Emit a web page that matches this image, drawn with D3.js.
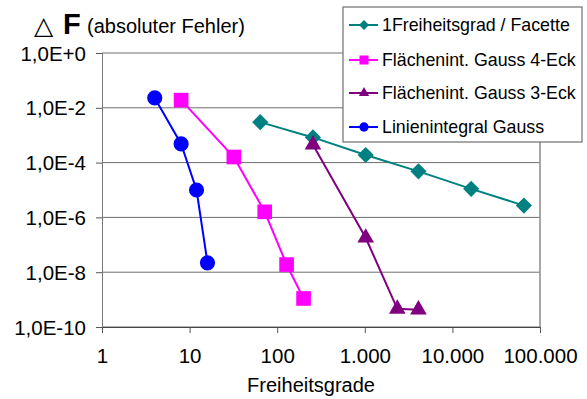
<!DOCTYPE html>
<html>
<head>
<meta charset="utf-8">
<script src="https://cdn.jsdelivr.net/npm/d3@7"></script>
<style>
  body { margin: 0; background: #fff; }
  text { font-family: "Liberation Sans", Arial, sans-serif; fill: #000; }
</style>
</head>
<body>
<svg id="chart" width="587" height="399"></svg>
<script>
// series data
const seriesNames = ["1Freiheitsgrad / Facette", "Flächenint. Gauss 4-Eck", "Flächenint. Gauss 3-Eck", "Linienintegral Gauss"];
const facetteX = [64, 256, 1024, 4096, 16384, 65536];
const facetteY = [3.0e-3, 8.3e-4, 1.9e-4, 4.8e-5, 1.1e-5, 2.7e-6];
const viereckX = [8, 32, 72, 128, 200];
const viereckY = [1.9e-2, 1.6e-4, 1.6e-6, 1.9e-8, 1.1e-9];
const dreieckX = [256, 1024, 2350, 4096];
const dreieckY = [4.5e-4, 1.8e-7, 4.6e-10, 4.3e-10];
const linieX = [4, 8, 12, 16];
const linieY = [2.3e-2, 4.8e-4, 1.0e-5, 2.2e-8];
const xTicks = [1, 10, 100, 1000, 10000, 100000];
const yTicks = [1, 1e-2, 1e-4, 1e-6, 1e-8, 1e-10];

const svg = d3.select("#chart");

// plot area
const plotLeft = 102, plotRight = 540, plotTop = 53, plotBottom = 327;

const x = d3.scaleLog().domain([1, 100000]).range([plotLeft, plotRight]);
const y = d3.scaleLog().domain([1e-10, 1]).range([plotBottom, plotTop]);

const de = d3.formatLocale({decimal: ",", thousands: ".", grouping: [3], currency: ["", ""]});
const fmtX = de.format(",");
const fmtY = v => {
    const e = Math.round(Math.log10(v));
    return "1,0E" + (e >= 0 ? "+" + e : e);
};

// gridlines
svg.append("g")
    .selectAll("line")
    .data(yTicks)
    .enter().append("line")
    .attr("x1", plotLeft).attr("x2", plotRight)
    .attr("y1", d => y(d)).attr("y2", d => y(d))
    .style("stroke", "#6e6e6e")
    .style("stroke-width", 1);

// right border
svg.append("line")
    .attr("x1", plotRight).attr("x2", plotRight)
    .attr("y1", plotTop).attr("y2", plotBottom)
    .style("stroke", "#8a8a8a")
    .style("stroke-width", 1.5);

// y axis
const yAxis = svg.append("g")
    .attr("transform", "translate(" + plotLeft + ",0)")
    .call(d3.axisLeft(y).tickValues(yTicks).tickFormat(fmtY).tickSize(6).tickPadding(10));
yAxis.select(".domain").style("stroke", "#777");
yAxis.selectAll(".tick line").style("stroke", "#555");
yAxis.selectAll("text").style("font-size", "20.5px").attr("dy", "0.35em");

// x axis
const xAxis = svg.append("g")
    .attr("transform", "translate(0," + plotBottom + ")")
    .call(d3.axisBottom(x).tickValues(xTicks).tickFormat(fmtX).tickSize(6).tickPadding(15));
xAxis.select(".domain").style("stroke", "#444");
xAxis.selectAll(".tick line").style("stroke", "#555");
xAxis.selectAll("text").style("font-size", "20.5px");

// axis title
svg.append("text")
    .attr("x", 311).attr("y", 392)
    .attr("text-anchor", "middle")
    .style("font-size", "20px")
    .text("Freiheitsgrade");

// y title
svg.append("text")
    .attr("x", 34).attr("y", 34)
    .style("font-family", "DejaVu Sans")
    .style("font-size", "25px")
    .text("△");
svg.append("text")
    .attr("x", 63).attr("y", 34)
    .style("font-size", "29px")
    .style("font-weight", "bold")
    .text("F");
svg.append("text")
    .attr("x", 87).attr("y", 33)
    .style("font-size", "20px")
    .text("(absoluter Fehler)");

const series = [
    {name: seriesNames[0], xs: facetteX, ys: facetteY, color: "#008080", shape: "diamond"},
    {name: seriesNames[1], xs: viereckX, ys: viereckY, color: "#ff00ff", shape: "square"},
    {name: seriesNames[2], xs: dreieckX, ys: dreieckY, color: "#800080", shape: "triangle"},
    {name: seriesNames[3], xs: linieX, ys: linieY, color: "#0000ff", shape: "circle"}
];

function marker(shape, big) {
    const k = big ? 1 : 0.38;
    if (shape === "diamond") return d3.symbol().type(d3.symbolSquare).size(130 * k)();
    if (shape === "square") return d3.symbol().type(d3.symbolSquare).size(215 * k)();
    if (shape === "triangle") return d3.symbol().type(d3.symbolTriangle).size(120 * k)();
    return d3.symbol().type(d3.symbolCircle).size(180 * k)();
}

const line = d3.line().x(d => x(d[0])).y(d => y(d[1]));

series.forEach(s => {
    const pts = s.xs.map((v, i) => [v, s.ys[i]]);
    const g = svg.append("g");
    g.append("path")
        .attr("d", line(pts))
        .style("fill", "none")
        .style("stroke", s.color)
        .style("stroke-width", 2);
    g.selectAll(".pt")
        .data(pts)
        .enter().append("path")
        .attr("class", "pt")
        .attr("d", marker(s.shape, true))
        .attr("transform", d => "translate(" + x(d[0]) + "," + y(d[1]) + ")" + (s.shape === "diamond" ? " rotate(45)" : ""))
        .style("fill", s.color);
});

// legend
const legend = svg.append("g");
legend.append("rect")
    .attr("x", 343).attr("y", 7)
    .attr("width", 239).attr("height", 135)
    .style("fill", "#fff")
    .style("stroke", "#6e6e6e")
    .style("stroke-width", 1.2);

const rowY = [25, 60, 93, 127];
series.forEach((s, i) => {
    const item = legend.append("g").attr("transform", "translate(0," + rowY[i] + ")");
    item.append("line")
        .attr("x1", 349).attr("x2", 378)
        .style("stroke", s.color)
        .style("stroke-width", 2);
    item.append("path")
        .attr("d", marker(s.shape, false))
        .attr("transform", "translate(364,0)" + (s.shape === "diamond" ? " rotate(45)" : ""))
        .style("fill", s.color);
    item.append("text")
        .attr("x", 382).attr("y", 0)
        .attr("dy", "0.35em")
        .style("font-size", "17.8px")
        .text(s.name);
});
</script>
</body>
</html>
